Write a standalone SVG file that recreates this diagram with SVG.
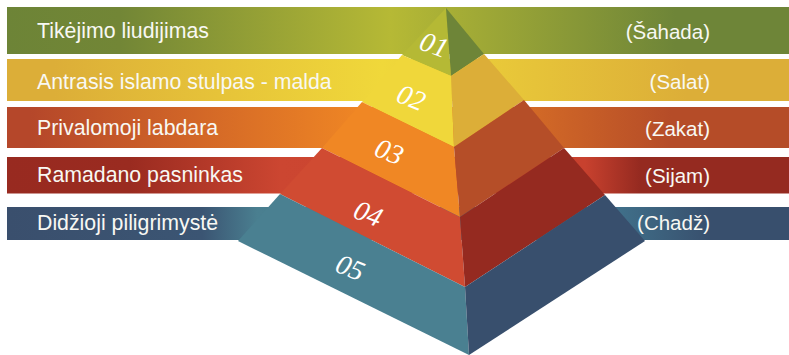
<svg xmlns="http://www.w3.org/2000/svg" width="789" height="355" viewBox="0 0 789 355">
<defs>
<linearGradient id="g1" gradientUnits="userSpaceOnUse" x1="7" y1="0" x2="789" y2="0">
<stop offset="0" stop-color="#6d8437"/><stop offset="0.144" stop-color="#728636"/><stop offset="0.49" stop-color="#b6b935"/><stop offset="0.855" stop-color="#6e8538"/><stop offset="1" stop-color="#6e8538"/>
</linearGradient>
<linearGradient id="g2" gradientUnits="userSpaceOnUse" x1="7" y1="0" x2="789" y2="0">
<stop offset="0" stop-color="#dcae38"/><stop offset="0.06" stop-color="#dcae38"/><stop offset="0.48" stop-color="#f0d83a"/><stop offset="0.87" stop-color="#dcae38"/><stop offset="1" stop-color="#dcae38"/>
</linearGradient>
<linearGradient id="g3" gradientUnits="userSpaceOnUse" x1="7" y1="0" x2="789" y2="0">
<stop offset="0" stop-color="#b5472a"/><stop offset="0.03" stop-color="#b5472a"/><stop offset="0.46" stop-color="#f08724"/><stop offset="0.6" stop-color="#de7526"/><stop offset="0.85" stop-color="#b54c28"/><stop offset="1" stop-color="#b54c28"/>
</linearGradient>
<linearGradient id="g4" gradientUnits="userSpaceOnUse" x1="7" y1="0" x2="789" y2="0">
<stop offset="0" stop-color="#982a20"/><stop offset="0.157" stop-color="#9a2b20"/><stop offset="0.35" stop-color="#cc4631"/><stop offset="0.739" stop-color="#c8412e"/><stop offset="0.81" stop-color="#952a20"/><stop offset="1" stop-color="#952a20"/>
</linearGradient>
<linearGradient id="g5" gradientUnits="userSpaceOnUse" x1="7" y1="0" x2="789" y2="0">
<stop offset="0" stop-color="#3a4f6d"/><stop offset="0.25" stop-color="#3b5573"/><stop offset="0.32" stop-color="#4a7f90"/><stop offset="0.78" stop-color="#40708a"/><stop offset="0.9" stop-color="#384f6d"/><stop offset="1" stop-color="#384f6d"/>
</linearGradient>
</defs>
<style>
.lbl{font-family:"Liberation Sans",Arial,sans-serif;font-size:21.3px;fill:#f8f8f3}
.r{text-anchor:end;font-size:20.5px}
.num{font-family:"Liberation Serif","DejaVu Serif",serif;font-style:italic;font-size:28px;fill:#ffffff;text-anchor:middle}
</style>
<rect width="789" height="355" fill="#ffffff"/>
<g id="band-1">
<rect x="7" y="7" width="782" height="47" fill="url(#g1)"/>
<text class="lbl" x="37" y="38">Tikėjimo liudijimas</text>
<text class="lbl r" x="710" y="38.5">(Šahada)</text>
</g>
<g id="band-2">
<rect x="7" y="59" width="782" height="42" fill="url(#g2)"/>
<text class="lbl" x="37" y="89">Antrasis islamo stulpas - malda</text>
<text class="lbl r" x="710" y="89">(Salat)</text>
</g>
<g id="band-3">
<rect x="7" y="107" width="782" height="41" fill="url(#g3)"/>
<text class="lbl" x="37" y="135">Privalomoji labdara</text>
<text class="lbl r" x="710" y="136">(Zakat)</text>
</g>
<g id="band-4">
<rect x="7" y="157" width="782" height="36.5" fill="url(#g4)"/>
<text class="lbl" x="37" y="182">Ramadano pasninkas</text>
<text class="lbl r" x="710" y="182.5">(Sijam)</text>
</g>
<g id="band-5">
<rect x="7" y="207" width="782" height="33" fill="url(#g5)"/>
<text class="lbl" x="37" y="230">Didžioji piligrimystė</text>
<text class="lbl r" x="710" y="230">(Chadž)</text>
</g>
<g id="tier-1">
<polygon points="446,8 451,76 402,55" fill="#b5b935"/>
<polygon points="446,8 484,54 451,76" fill="#6e8538"/>
<text class="num" transform="translate(434,45) rotate(20)" x="0" y="9">01</text>
</g>
<g id="tier-2">
<polygon points="402,55 451,76 454,147 362,102" fill="#f0d73a"/>
<polygon points="484,54 524,100 454,147 451,76" fill="#dcae38"/>
<text class="num" transform="translate(411,98) rotate(22)" x="0" y="9">02</text>
</g>
<g id="tier-3">
<polygon points="362,102 454,147 460,217 322,148" fill="#f08724"/>
<polygon points="524,100 564,148 460,217 454,147" fill="#b54e28"/>
<text class="num" transform="translate(389,152) rotate(22)" x="0" y="9">03</text>
</g>
<g id="tier-4">
<polygon points="322,148 460,217 465,287 280,194" fill="#d04b32"/>
<polygon points="564,148 605,195 465,287 460,217" fill="#952a20"/>
<text class="num" transform="translate(368,214) rotate(22)" x="0" y="9">04</text>
</g>
<g id="tier-5">
<polygon points="280,194 465,287 469,355 238,241" fill="#4a8091"/>
<polygon points="605,195 645,241 469,355 465,287" fill="#384f6d"/>
<text class="num" transform="translate(350,268) rotate(22)" x="0" y="9">05</text>
</g>
</svg>
